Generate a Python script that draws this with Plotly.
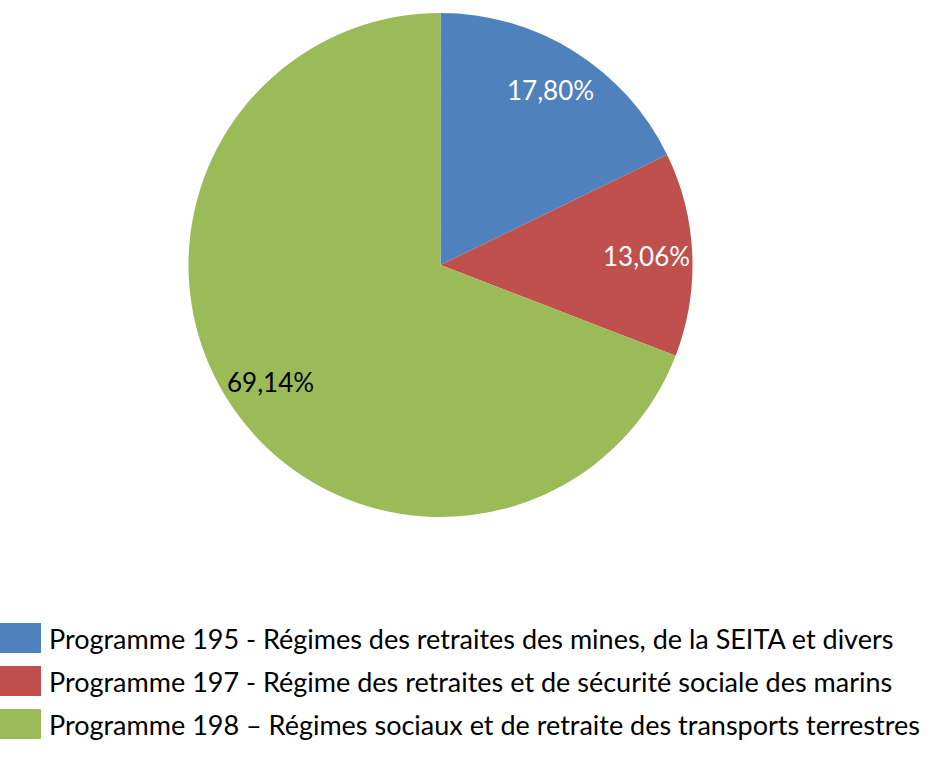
import math
import plotly.graph_objects as go

labels = [
    "Programme 195 - Régimes des retraites des mines, de la SEITA et divers",
    "Programme 197 - Régime des retraites et de sécurité sociale des marins",
    "Programme 198 – Régimes sociaux et de retraite des transports terrestres",
]
values = [17.80, 13.06, 69.14]
colors = ["#4F81BD", "#C0504D", "#9BBB59"]
text_colors = ["#FFFFFF", "#FFFFFF", "#000000"]

W, H = 939, 778
FONT = "Lato"
FS_LABEL = 26
FS_LEGEND = 27

# pie geometry (pixels)
CX, CY, R = 440.5, 265, 252

fig = go.Figure()
fig.add_trace(go.Pie(
    labels=labels,
    values=values,
    sort=False,
    direction="clockwise",
    rotation=0,
    marker=dict(colors=colors, line=dict(width=0)),
    textinfo="none",
    showlegend=False,
    hoverinfo="label+percent",
    domain=dict(x=[(CX - R) / W, (CX + R) / W], y=[1 - (CY + R) / H, 1 - (CY - R) / H]),
))

# data labels, placed along each slice's mid-angle (computed from values)
total = sum(values)
cum = 0.0
for v, tc in zip(values, text_colors):
    mid = (cum + v / 2) / total * 2 * math.pi
    cum += v
    px = CX + 0.82 * R * math.sin(mid)
    py = CY - 0.82 * R * math.cos(mid)
    txt = f"{v / total * 100:.2f}%".replace(".", ",")
    fig.add_annotation(xref="paper", yref="paper", x=px / W, y=1 - py / H,
                       text=txt, showarrow=False, xanchor="center", yanchor="middle",
                       font=dict(size=FS_LABEL, family=FONT, color=tc))

# Manual legend
legend_y = [638, 681, 724]
for lab, col, yc in zip(labels, colors, legend_y):
    fig.add_shape(type="rect", xref="paper", yref="paper",
                  x0=0, x1=41 / W, y0=1 - (yc + 15) / H, y1=1 - (yc - 15) / H,
                  fillcolor=col, line=dict(width=0))
    fig.add_annotation(xref="paper", yref="paper", x=47 / W, y=1 - yc / H,
                       text=lab, showarrow=False, xanchor="left", yanchor="middle",
                       font=dict(size=FS_LEGEND, family=FONT, color="#000000"))

fig.update_layout(
    width=W, height=H,
    margin=dict(l=0, r=0, t=0, b=0),
    paper_bgcolor="white", plot_bgcolor="white",
    font=dict(family=FONT),
)
fig.write_html("out.html", config={"displayModeBar": False},
               post_script="document.body.style.margin='0';")
